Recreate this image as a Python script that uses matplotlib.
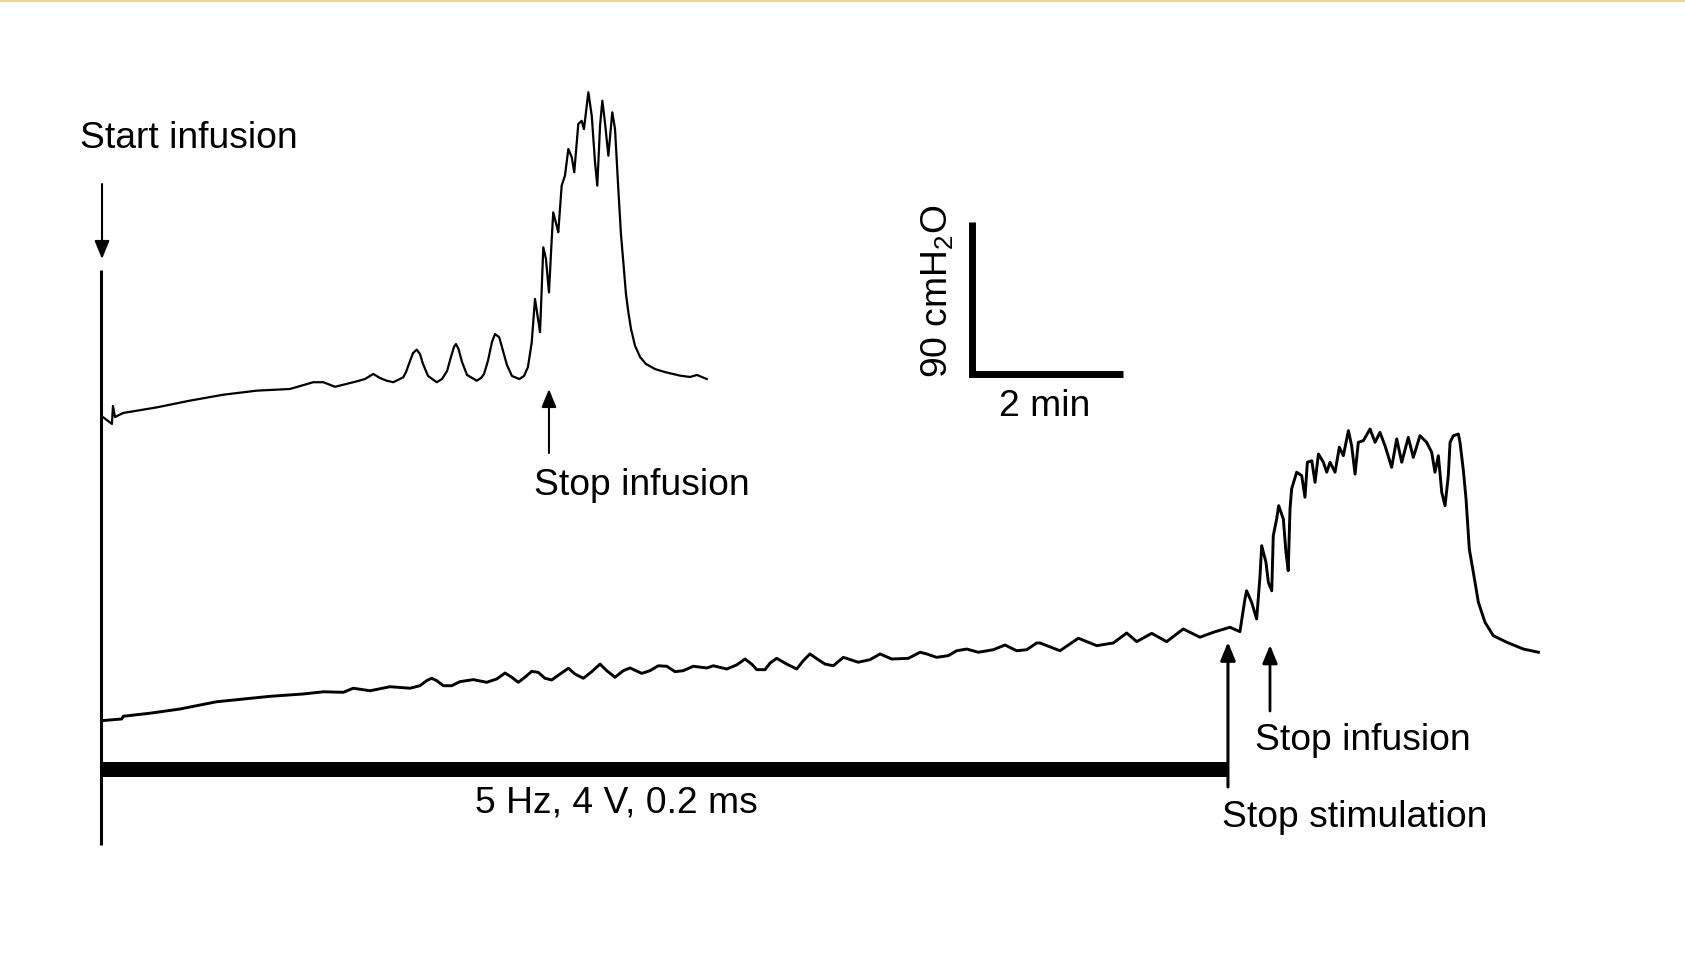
import numpy as np
import matplotlib
matplotlib.use("Agg")
import matplotlib.pyplot as plt
from matplotlib.patches import Rectangle

plt.rcParams['font.family'] = ['Liberation Sans', 'DejaVu Sans']
plt.rcParams['mathtext.fontset'] = 'custom'
plt.rcParams['mathtext.rm'] = 'Liberation Sans'
plt.rcParams['mathtext.default'] = 'regular'

# Upper trace: infusion only (time in s, pressure in cmH2O)
t_upper = [1.8, 8.7, 9.5, 11.1, 17.7, 44.3, 70.7, 97.2, 123.7, 150.2, 168.7, 176.7, 186.0,
           203.2, 209.8, 216.4, 221.7, 227.0, 232.3, 240.2, 242.4, 245.6, 248.0, 250.9,
           253.5, 255.9, 259.9, 266.8, 271.0, 275.0, 278.1, 280.5, 282.1, 284.1, 286.9,
           290.9, 298.6, 302.0, 304.4, 307.5, 310.7, 313.1, 316.5, 319.5, 322.6, 326.6,
           332.4, 336.2, 339.3, 342.3, 344.9, 348.9, 351.5, 353.6, 356.0, 358.2, 359.4,
           362.1, 363.4, 366.1, 368.7, 371.4, 374.1, 376.1, 379.3, 382.0, 383.8, 387.3,
           390.0, 392.6, 394.4, 396.6, 398.4, 400.5, 403.2, 406.3, 408.5, 411.1, 413.2,
           415.1, 417.2, 419.1, 421.2, 424.4, 428.4, 433.1, 440.3, 448.2, 460.1, 468.1,
           473.6, 481.4]
p_upper = [6.9, 3.0, 13.6, 7.1, 9.5, 12.8, 16.8, 20.3, 22.7, 23.7, 27.7, 27.7, 25.0,
           28.2, 29.6, 32.6, 30.2, 28.6, 27.7, 30.6, 33.7, 40.3, 45.0, 47.0,
           44.4, 38.5, 31.4, 27.7, 29.6, 34.3, 42.6, 48.6, 50.3, 47.4, 39.7,
           32.0, 28.6, 30.2, 32.6, 40.3, 51.5, 56.2, 54.3, 46.2, 37.9, 31.4,
           29.6, 31.4, 36.7, 51.3, 77.0, 57.3, 107.6, 100.7, 80.9, 112.5, 128.3,
           120.4, 116.5, 144.1, 150.0, 165.8, 160.9, 152.0, 180.6, 182.5, 177.6, 199.4,
           185.5, 157.9, 144.1, 179.6, 194.4, 181.6, 161.8, 187.5, 177.6, 142.1, 115.5,
           98.7, 79.9, 69.1, 59.2, 49.3, 42.6, 38.5, 35.5, 33.7, 31.6, 30.8,
           32.0, 29.6]

# Lower trace: infusion + stimulation
t_lower = [0.6, 16.5, 17.7, 38.9, 62.8, 91.9, 118.4, 134.3, 160.8, 176.7, 192.6, 200.5,
           213.8, 229.7, 245.6, 253.5, 258.8, 262.8, 266.8, 272.0, 278.7, 285.3, 295.9,
           306.5, 314.5, 321.1, 326.4, 331.6, 336.9, 342.3, 347.5, 352.8, 358.2, 364.8,
           371.4, 376.7, 383.3, 390.0, 396.6, 401.9, 408.5, 415.1, 420.4, 429.7, 436.3,
           442.9, 449.6, 456.2, 462.8, 470.7, 481.4, 486.6, 497.3, 505.2, 511.8, 517.1,
           521.1, 527.7, 531.7, 537.0, 544.9, 552.9, 558.1, 563.4, 570.0, 575.4, 582.0,
           589.9, 601.8, 611.1, 619.1, 628.4, 641.6,
           650.9, 656.2, 664.1, 673.4, 680.0, 688.0, 697.2, 709.1, 718.4, 727.7, 735.7,
           743.6, 746.2, 762.1, 776.7, 791.3, 804.5, 815.1, 823.1, 835.0, 846.9, 860.1,
           873.3, 883.9, 897.2, 905.1, 909.1, 910.4, 914.4, 918.4, 921.0, 922.4, 925.8,
           927.7, 930.4, 931.6, 934.3, 935.9, 939.6, 941.7, 943.5, 944.9, 946.2, 950.2,
           954.2, 956.8, 958.7, 962.2, 964.8, 967.5, 971.4, 974.1, 976.7, 980.7, 984.1,
           987.3, 991.3, 993.9, 996.6, 999.2, 1003.2, 1008.5, 1012.5, 1016.4, 1020.4,
           1025.7, 1029.7, 1033.7, 1038.9, 1042.9, 1048.2, 1053.5, 1057.5, 1060.1, 1062.8,
           1065.5, 1068.1, 1070.7, 1072.1, 1074.7, 1078.7, 1080.0, 1082.7, 1084.8, 1087.4,
           1090.6, 1094.6, 1099.9, 1106.5, 1117.2, 1130.4, 1142.3]
p_lower = [7.9, 8.9, 10.5, 12.3, 14.8, 19.1, 21.1, 22.3, 23.7, 25.0, 24.7, 27.1,
           25.6, 28.0, 27.1, 28.6, 31.6, 33.0, 31.6, 28.6, 28.6, 31.0, 32.2,
           30.6, 32.6, 36.1, 33.6, 30.6, 33.6, 37.1, 36.5, 33.0, 32.0, 35.5,
           38.9, 35.5, 33.0, 36.9, 41.4, 37.5, 33.6, 37.5, 39.1, 35.9, 37.5,
           40.4, 40.1, 36.9, 37.5, 40.1, 39.1, 40.4, 38.5, 40.9, 44.4, 41.4,
           38.1, 38.1, 42.0, 44.8, 41.4, 38.5, 43.4, 47.4, 44.0, 41.4, 40.4,
           45.4, 42.5, 44.0, 47.4, 44.4, 44.8,
           48.4, 47.4, 45.4, 46.4, 49.3, 50.3, 48.4, 49.9, 52.7, 49.3, 49.9,
           53.9, 53.9, 49.3, 56.7, 52.3, 53.9, 59.8, 54.7, 59.6, 54.7, 62.2,
           57.3, 60.2, 63.2, 60.6, 79.9, 84.8, 78.0, 68.1, 92.8, 111.5, 101.7,
           89.8, 84.8, 117.4, 127.3, 135.2, 127.3, 107.6, 96.7, 133.2, 145.1, 155.0,
           153.0, 140.2, 160.9, 161.8, 149.0, 165.8, 160.9, 155.0, 160.9, 155.0, 169.8,
           164.8, 179.6, 170.7, 153.9, 172.7, 173.7, 180.6, 172.7, 178.6, 170.7,
           157.9, 174.7, 160.9, 175.6, 163.8, 176.6, 172.7, 166.8, 155.0, 164.8,
           143.1, 135.2, 152.9, 172.7, 176.6, 177.6, 172.7, 155.9, 139.1, 109.5,
           95.7, 78.0, 66.1, 58.2, 54.3, 50.3, 48.4]

# events (s)
t_stop_infusion_1 = 356.0
t_stop_stim = 895.6
t_stop_infusion_2 = 929.0

# scale bar
bar_p = 90    # cmH2O
bar_t = 120   # s (2 min)
stim_label = "5 Hz, 4 V, 0.2 ms"

# layout (pixels of the 1685x970 picture)
W, H = 1685, 970
X0, Y0 = 101, 430          # where t=0 and upper p=0 sit
SX, SY = 151 / 120, 152 / 90   # px per s, px per cmH2O
LOWER_SHIFT = 305              # px between the two traces


def py(y):
    # pixel row -> pressure units of the axes
    return (Y0 - y) / SY


def px(x):
    return (x - X0) / SX


fig = plt.figure(figsize=(W / 100, H / 100), dpi=100)
ax = fig.add_axes([0, 0, 1, 1])
ax.set_xlim(px(0), px(W))
ax.set_ylim(py(H), py(0))
ax.axis('off')

# thin golden line at the very top
fig.add_artist(Rectangle((0, 1 - 3 / H), 1, 3 / H, transform=fig.transFigure,
                         color='#ebd6a2', lw=0))

ax.plot(t_upper, p_upper, color='black', lw=1.6, solid_joinstyle='round')
ax.plot(t_lower, np.array(p_lower) - LOWER_SHIFT / SY, color='black', lw=2.1,
        solid_joinstyle='round')

# start line and stimulation bar
ax.plot([0, 0], [py(271), py(846)], color='black', lw=2.2, solid_capstyle='butt')
ax.plot([0, t_stop_stim], [py(769.5), py(769.5)], color='black', lw=10.8,
        solid_capstyle='butt')


def arrow(t, y_tail, y_tip, lw=1.5):
    ax.annotate('', xy=(t, py(y_tip)), xytext=(t, py(y_tail)),
                arrowprops=dict(arrowstyle='-|>,head_length=1.1,head_width=0.45',
                                color='black', lw=lw, shrinkA=0, shrinkB=0,
                                mutation_scale=10))


arrow(0.8, 185, 260)
arrow(t_stop_infusion_1, 454, 390)
arrow(t_stop_infusion_2, 712, 646, lw=2)
arrow(t_stop_stim, 788, 643, lw=2.2)

# scale bar
ts, ps = px(972), py(375)
ax.plot([ts, ts, ts + bar_t], [ps + bar_p, ps, ps], color='black', lw=5,
        solid_joinstyle='miter', solid_capstyle='butt')

fs = 26.8


def label(x, y, s, **kw):
    fig.text(x / W, 1 - y / H, s, fontsize=fs, **kw)


label(79.5, 148, "Start infusion", va='baseline')
label(534, 495, "Stop infusion", va='baseline')
label(1255, 750, "Stop infusion", va='baseline')
label(1222, 827, "Stop stimulation", va='baseline')
label(475, 813, stim_label, va='baseline')
label(999, 416, "2 min", va='baseline')
label(937, 291, "90 cmH$_2$O", rotation=90, ha='center', va='center')

fig.savefig("out.png", dpi=100)
